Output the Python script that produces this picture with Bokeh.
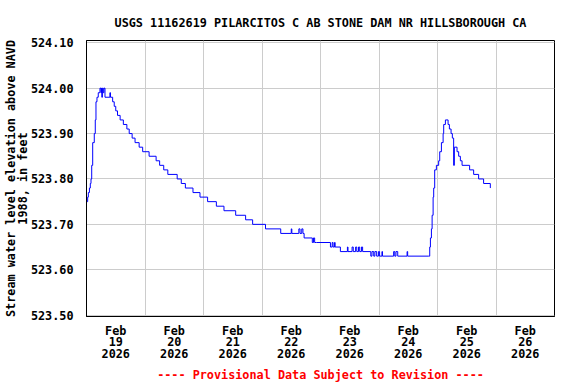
from bokeh.plotting import figure
from bokeh.models import Range1d, FixedTicker, Title
from bokeh.embed import file_html
from bokeh.resources import INLINE

# time in days since 2026-02-19 00:00, water level in feet (NAVD 1988)
day = [0.000, 0.020, 0.031, 0.050, 0.065, 0.077, 0.089, 0.106, 0.133, 0.150,
       0.162, 0.179, 0.201, 0.230, 0.247, 0.256, 0.262, 0.272, 0.285, 0.298,
       0.316, 0.400, 0.410, 0.447, 0.474, 0.500, 0.530, 0.575, 0.630, 0.690,
       0.730, 0.780, 0.830, 0.900, 0.960, 1.070, 1.190, 1.250, 1.320, 1.390,
       1.550, 1.620, 1.690, 1.820, 1.940, 2.070, 2.220, 2.350, 2.550, 2.720,
       2.840, 3.060, 3.320, 3.500, 3.510, 3.630, 3.650, 3.680, 3.700, 3.720,
       3.860, 3.880, 3.900, 3.930, 4.170, 4.200, 4.215, 4.240, 4.250, 4.340,
       4.460, 4.470, 4.540, 4.560, 4.600, 4.620, 4.650, 4.670, 4.700, 4.720,
       4.860, 4.880, 4.910, 4.930, 4.960, 4.990, 5.010, 5.050, 5.060, 5.250,
       5.270, 5.290, 5.320, 5.480, 5.490, 5.850, 5.867, 5.879, 5.896, 5.908,
       5.925, 5.935, 5.952, 5.981, 6.020, 6.038, 6.067, 6.096, 6.106, 6.135,
       6.181, 6.203, 6.232, 6.254, 6.276, 6.288, 6.334, 6.362, 6.391, 6.420,
       6.549, 6.618, 6.703, 6.788, 6.903]
level = [523.75, 523.76, 523.77, 523.78, 523.79, 523.80, 523.83, 523.88, 523.90, 523.93,
         523.97, 523.98, 523.99, 524.00, 523.99, 524.00, 523.98, 524.00, 523.99, 524.00,
         523.98, 523.99, 523.98, 523.97, 523.96, 523.95, 523.94, 523.93, 523.92, 523.91,
         523.90, 523.89, 523.88, 523.87, 523.86, 523.85, 523.84, 523.83, 523.82, 523.81,
         523.80, 523.79, 523.78, 523.77, 523.76, 523.75, 523.74, 523.73, 523.72, 523.71,
         523.70, 523.69, 523.68, 523.69, 523.68, 523.69, 523.68, 523.69, 523.68, 523.67,
         523.66, 523.67, 523.66, 523.66, 523.65, 523.66, 523.65, 523.66, 523.65, 523.64,
         523.65, 523.64, 523.65, 523.64, 523.65, 523.64, 523.65, 523.64, 523.65, 523.64,
         523.63, 523.64, 523.63, 523.64, 523.63, 523.64, 523.63, 523.64, 523.63, 523.64,
         523.63, 523.64, 523.63, 523.64, 523.63, 523.63, 523.65, 523.67, 523.69, 523.72,
         523.76, 523.78, 523.82, 523.83, 523.84, 523.86, 523.88, 523.90, 523.92, 523.93,
         523.92, 523.91, 523.90, 523.89, 523.83, 523.87, 523.86, 523.85, 523.84, 523.83,
         523.82, 523.81, 523.80, 523.79, 523.78]

x_tick_pos = [0.5, 1.5, 2.5, 3.5, 4.5, 5.5, 6.5, 7.5]
x_tick_labels = ["Feb\n19\n2026", "Feb\n20\n2026", "Feb\n21\n2026", "Feb\n22\n2026",
                 "Feb\n23\n2026", "Feb\n24\n2026", "Feb\n25\n2026", "Feb\n26\n2026"]
day_bounds = [1, 2, 3, 4, 5, 6, 7]
y_ticks = [523.5, 523.6, 523.7, 523.8, 523.9, 524.0, 524.1]
y_tick_labels = ["523.50", "523.60", "523.70", "523.80", "523.90", "524.00", "524.10"]

title_text = "USGS 11162619 PILARCITOS C AB STONE DAM NR HILLSBOROUGH CA"
y_label = "Stream water level elevation above NAVD\n1988, in feet"
footer_text = "---- Provisional Data Subject to Revision ----"

FONT = "DejaVu Sans Mono"
FS = "11.8px"

p = figure(width=560, height=384, output_backend="svg", toolbar_location=None,
           x_range=Range1d(0, 8), y_range=Range1d(523.497, 524.105),
           min_border_left=85, min_border_right=6, min_border_top=40,
           min_border_bottom=68, background_fill_color="white",
           border_fill_color="white")

p.title.text = title_text
p.title.align = "center"
p.title.text_font = FONT
p.title.text_font_size = FS
p.title.text_font_style = "bold"
p.title.text_color = "black"
p.title.standoff = 21

p.step(day, level, mode="after", line_color="#0000FF", line_width=1)

p.xaxis.ticker = FixedTicker(ticks=x_tick_pos)
p.xaxis.major_label_overrides = {pos: lab for pos, lab in zip(x_tick_pos, x_tick_labels)}
p.yaxis.ticker = FixedTicker(ticks=y_ticks)
p.yaxis.major_label_overrides = {pos: lab for pos, lab in zip(y_ticks, y_tick_labels)}
p.xgrid.ticker = FixedTicker(ticks=day_bounds)
p.ygrid.ticker = FixedTicker(ticks=y_ticks)

for ax in (p.xaxis[0], p.yaxis[0]):
    ax.axis_line_color = "black"
    ax.axis_line_width = 1
    ax.major_tick_line_color = None
    ax.minor_tick_line_color = None
    ax.major_label_text_font = FONT
    ax.major_label_text_font_size = FS
    ax.major_label_text_font_style = "bold"
    ax.major_label_text_color = "black"

p.xaxis.major_label_standoff = 1
p.xaxis.major_label_text_line_height = 0.83
p.yaxis.major_label_standoff = 7
p.yaxis.axis_label = y_label
p.yaxis.axis_label_text_font = FONT
p.yaxis.axis_label_text_font_size = FS
p.yaxis.axis_label_text_font_style = "bold"
p.yaxis.axis_label_text_color = "black"
p.yaxis.axis_label_text_line_height = 0.85
p.yaxis.axis_label_standoff = -2

p.grid.grid_line_color = "#CCCCCC"
p.grid.grid_line_width = 1
p.outline_line_color = "black"
p.outline_line_width = 1
p.outline_line_alpha = 1

p.add_layout(Title(text=footer_text, align="center", text_color="red",
                   text_font=FONT, text_font_size=FS, text_font_style="bold",
                   standoff=4),
             "below")

open("out.html", "w").write(file_html(p, INLINE))
